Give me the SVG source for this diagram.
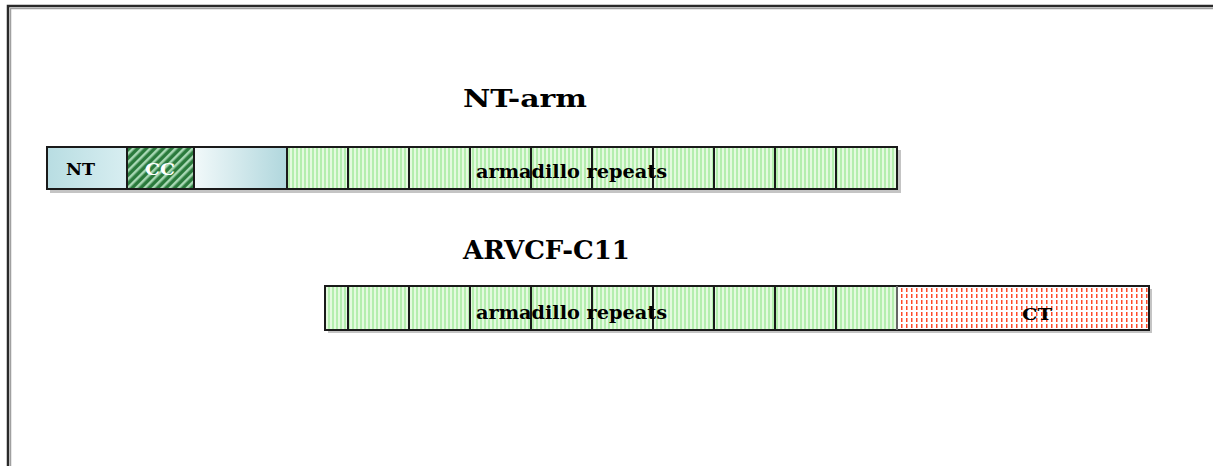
<svg xmlns="http://www.w3.org/2000/svg" width="1213" height="466" viewBox="0 0 1213 466">
<style>
.lbl{font-family:"DejaVu Serif","Liberation Serif",serif;font-weight:bold;fill:#000}
.seg{stroke:#1a1a1a;stroke-width:2}
.div{stroke:#1a1a1a;stroke-width:2}
</style>
<defs>
<pattern id="arm" width="4" height="4" patternUnits="userSpaceOnUse">
<rect width="4" height="4" fill="#e4fadf"/>
<rect x="0" width="2" height="4" fill="#b4eeae"/>
</pattern>
<pattern id="cc" width="6" height="6" patternUnits="userSpaceOnUse" patternTransform="rotate(45)">
<rect width="6" height="6" fill="#2a7a3c"/>
<rect width="2.5" height="6" fill="#a8d8b4"/>
</pattern>
<pattern id="ct" width="5" height="6" patternUnits="userSpaceOnUse">
<rect width="5" height="6" fill="#ffffff"/>
<rect x="1" y="0" width="1.5" height="4" fill="#ff4a2a"/>
</pattern>
<linearGradient id="nt" x1="0" x2="1" y1="0" y2="0">
<stop offset="0" stop-color="#b8dde2"/>
<stop offset="1" stop-color="#d8eef1"/>
</linearGradient>
<linearGradient id="lt" x1="0" x2="1" y1="0" y2="0">
<stop offset="0" stop-color="#f2f9fa"/>
<stop offset="1" stop-color="#b0d7dd"/>
</linearGradient>
</defs>
<rect width="1213" height="466" fill="#ffffff"/>
<g id="frame">
<rect x="8" y="6" width="1215" height="470" fill="none" stroke="#2a2a2a" stroke-width="2.5"/>
<rect x="10.5" y="8.5" width="1215" height="470" fill="none" stroke="#a0a0a0" stroke-width="1.5"/>
</g>
<text class="lbl" x="463" y="107" font-size="24" textLength="124" lengthAdjust="spacingAndGlyphs">NT-arm</text>
<text class="lbl" x="463" y="259" font-size="26" textLength="167" lengthAdjust="spacingAndGlyphs">ARVCF-C11</text>
<g id="nt-arm">
<rect x="50" y="150" width="851" height="43" fill="#c4c4c4"/>
<rect x="47" y="147" width="80" height="42" fill="url(#nt)"/>
<rect x="127" y="147" width="67" height="42" fill="url(#cc)"/>
<rect x="194" y="147" width="93" height="42" fill="url(#lt)"/>
<rect x="287" y="147" width="610" height="42" fill="url(#arm)"/>
<rect x="47" y="147" width="850" height="42" fill="none" class="seg"/>
<g class="div">
<line x1="127" y1="147" x2="127" y2="189"/>
<line x1="194" y1="147" x2="194" y2="189"/>
<line x1="287" y1="147" x2="287" y2="189"/>
<line x1="348" y1="147" x2="348" y2="189"/>
<line x1="409" y1="147" x2="409" y2="189"/>
<line x1="470" y1="147" x2="470" y2="189"/>
<line x1="531" y1="147" x2="531" y2="189"/>
<line x1="592" y1="147" x2="592" y2="189"/>
<line x1="653" y1="147" x2="653" y2="189"/>
<line x1="714" y1="147" x2="714" y2="189"/>
<line x1="775" y1="147" x2="775" y2="189"/>
<line x1="836" y1="147" x2="836" y2="189"/>
</g>
<text class="lbl" x="66" y="175" font-size="17" textLength="29" lengthAdjust="spacingAndGlyphs">NT</text>
<text class="lbl" x="145" y="175" font-size="17" textLength="30" lengthAdjust="spacingAndGlyphs" style="fill:#ffffff">CC</text>
<text class="lbl" x="476" y="178" font-size="18" textLength="191" lengthAdjust="spacingAndGlyphs">armadillo repeats</text>
</g>
<g id="arvcf-c11">
<rect x="328" y="289" width="824" height="44" fill="#c4c4c4"/>
<rect x="325" y="286" width="572" height="44" fill="url(#arm)"/>
<rect x="897" y="286" width="252" height="44" fill="url(#ct)"/>
<rect x="325" y="286" width="824" height="44" fill="none" class="seg"/>
<g class="div">
<line x1="348" y1="286" x2="348" y2="330"/>
<line x1="409" y1="286" x2="409" y2="330"/>
<line x1="470" y1="286" x2="470" y2="330"/>
<line x1="531" y1="286" x2="531" y2="330"/>
<line x1="592" y1="286" x2="592" y2="330"/>
<line x1="653" y1="286" x2="653" y2="330"/>
<line x1="714" y1="286" x2="714" y2="330"/>
<line x1="775" y1="286" x2="775" y2="330"/>
<line x1="836" y1="286" x2="836" y2="330"/>
<line x1="897" y1="286" x2="897" y2="330" stroke="#666"/>
</g>
<text class="lbl" x="476" y="319" font-size="18" textLength="191" lengthAdjust="spacingAndGlyphs">armadillo repeats</text>
<text class="lbl" x="1022" y="320" font-size="17" textLength="30" lengthAdjust="spacingAndGlyphs">CT</text>
</g>
</svg>
